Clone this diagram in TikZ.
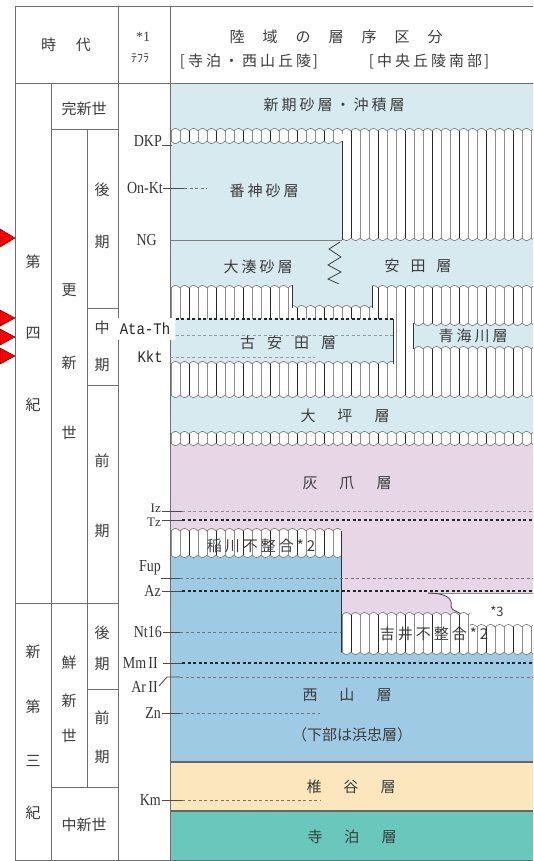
\documentclass[tikz,border=0pt]{standalone}
\usepackage{fontspec}
\usepackage{graphicx}
\setmainfont{Liberation Serif}
\newfontfamily\jp{Noto Sans CJK JP}
\newfontfamily\jpls[LetterSpace=20]{Noto Sans CJK JP}
\newfontfamily\monof{Liberation Mono}
\definecolor{lblue}{HTML}{D6EAF0}
\definecolor{nblue}{HTML}{9ECBE3}
\definecolor{pinkc}{HTML}{E6D6E6}
\definecolor{beigec}{HTML}{FCE6BE}
\definecolor{tealc}{HTML}{6AC7BC}
\definecolor{gridc}{HTML}{6E6E6E}
\definecolor{txtc}{HTML}{3C3C3C}
\def\wa{2.5}\def\wp{9}\def\wf{20}
% hatched unconformity: x1 x2 ytop mtop ybot mbot
\newcommand\hatch[6]{%
  \pgfmathtruncatemacro\ns{max(4,#2-#1)}%
  \fill[white] plot[domain=#1:#2,samples=\ns] (\x,{#3+(#4)*\wa*abs(sin(\wf*\x))}) -- plot[domain=#2:#1,samples=\ns] (\x,{#5+(#6)*\wa*abs(sin(\wf*\x))}) -- cycle;
  \pgfmathtruncatemacro\kA{ceil((#1+0.5)/\wp)}%
  \pgfmathtruncatemacro\kB{floor((#2-0.5)/\wp)}%
  \foreach \k in {\kA,...,\kB}{%
    \pgfmathtruncatemacro\km{mod(\k,3)}%
    \ifnum\km=0 \draw[hd] (\k*\wp,#3) -- (\k*\wp,#5);\else \draw[hl] (\k*\wp,#3) -- (\k*\wp,#5);\fi}%
  \ifnum#4=0\else\draw[edge] plot[domain=#1:#2,samples=\ns] (\x,{#3+(#4)*\wa*abs(sin(\wf*\x))});\fi
  \ifnum#6=0\else\draw[edge] plot[domain=#1:#2,samples=\ns] (\x,{#5+(#6)*\wa*abs(sin(\wf*\x))});\fi
}
% coloured overlay: colour x1 x2 ytop mtop ybot mbot
\newcommand\wfill[7]{%
  \pgfmathtruncatemacro\ns{max(4,#3-#2)}%
  \fill[#1] plot[domain=#2:#3,samples=\ns] (\x,{#4+(#5)*\wa*abs(sin(\wf*\x))}) -- plot[domain=#3:#2,samples=\ns] (\x,{#6+(#7)*\wa*abs(sin(\wf*\x))}) -- cycle;
  \ifnum#5=0\else\draw[edge] plot[domain=#2:#3,samples=\ns] (\x,{#4+(#5)*\wa*abs(sin(\wf*\x))});\fi
  \ifnum#7=0\else\draw[edge] plot[domain=#2:#3,samples=\ns] (\x,{#6+(#7)*\wa*abs(sin(\wf*\x))});\fi
}
\begin{document}
\begin{tikzpicture}[x=1pt,y=-1pt,
  grid/.style={draw=gridc,line width=0.9pt},
  edge/.style={draw=black!55,line width=0.6pt},
  dk/.style={draw=black!80,line width=0.9pt},
  hl/.style={draw=black!45,line width=0.6pt},
  hd/.style={draw=black!85,line width=0.8pt},
  tdash/.style={draw=black!55,line width=1pt,dash pattern=on 3pt off 2.5pt},
  tdashd/.style={draw=black!85,line width=1.1pt,dash pattern=on 3pt off 2.5pt},
  lead/.style={draw=black!70,line width=0.9pt},
  jt/.style={font={\jp\fontsize{15}{18}\selectfont},text=txtc,inner sep=0pt},
  jts/.style={font={\jpls\fontsize{15}{18}\selectfont},text=txtc,inner sep=0pt},
  lab/.style={font={\fontsize{14}{16}\selectfont},text=black!80,inner sep=0pt,anchor=east},
  mlab/.style={font={\monof\fontsize{14}{16}\selectfont},text=black!85,inner sep=0pt},
  tri/.style={fill=red,draw=red!40!black,line width=0.5pt}
]
\useasboundingbox (0,0) rectangle (533,861);
% ---------- backgrounds
\fill[lblue] (170,83) rectangle (533,446);
\fill[pinkc] (170,440) rectangle (533,762);
\fill[nblue] (170,553) -- (341,553) -- (341,640) -- (533,640) -- (533,762) -- (170,762) -- cycle;
\fill[beigec] (170,762) rectangle (533,811);
\fill[tealc] (170,811) rectangle (533,860);
% ---------- upper unconformity and right block
\hatch{170}{533}{131}{-1}{141}{1}
\hatch{342}{533}{134}{0}{238}{1}
\draw[dk] (342,141) -- (342,240);
\draw[draw=black!50,line width=0.9pt] (170,240) -- (342,240);
% zigzag between 大湊砂層 and 安田層
\draw[draw=black!75,line width=0.8pt] (340,242) -- (329,249) -- (341,257) -- (328,265) -- (341,272) -- (328,279) -- (341,285) -- (292,285);
% ---------- middle unconformity
\hatch{170}{533}{288}{-1}{395}{1}
\wfill{lblue}{292}{372}{284}{0}{308}{-1}
\draw[dk] (292,285) -- (292,308);
\draw[dk] (372,286) -- (372,308);
\wfill{lblue}{170}{393}{319}{0}{364}{-1}
\draw[dk] (393,319) -- (393,364);
\wfill{lblue}{413}{533}{323}{1}{349}{-1}
\draw[dk] (413,323) -- (413,349);
% ---------- thin band below 大坪層
\hatch{170}{533}{434}{-1}{443}{1}
% ---------- *3 white area
\fill[white] (428,593) -- (533,593) -- (533,630) -- (472,630) -- (472,627) .. controls (469,625) and (468,622) .. (466,618) .. controls (462,612) and (450,611) .. (451,606) .. controls (453,598) and (445,593) .. (428,593) -- cycle;
\draw[draw=black!45,line width=0.8pt] (428,593) -- (533,593);
\draw[draw=black!75,line width=0.8pt] (428,593) .. controls (445,593) and (453,598) .. (451,606) .. controls (450,611) and (462,612) .. (466,618) .. controls (468,622) and (469,625) .. (472,627);
% ---------- 稲川 and 吉井 unconformities
\hatch{170}{341}{531}{-1}{555}{1}
\hatch{341}{470}{615}{-1}{652}{1}
\hatch{470}{533}{627}{-1}{652}{1}
\draw[dk] (341,531) -- (341,652);
% ---------- lower boundaries
\draw[draw=black!60,line width=1.2pt] (170,762) -- (533,762);
\draw[draw=black!60,line width=1.2pt] (170,811) -- (533,811);
% ---------- table grid
\draw[grid] (15,6) -- (533,6);
\draw[grid] (15,83) -- (533,83);
\draw[grid] (15,860) -- (533,860);
\draw[grid] (15,6) -- (15,860);
\draw[grid] (118,6) -- (118,860);
\draw[grid] (170,6) -- (170,860);
\draw[grid] (51,83) -- (51,860);
\draw[grid] (87,129) -- (87,787);
\draw[grid] (51,129) -- (118,129);
\draw[grid] (87,308) -- (118,308);
\draw[grid] (87,385) -- (118,385);
\draw[grid] (15,603) -- (118,603);
\draw[grid] (87,689) -- (118,689);
\draw[grid] (51,787) -- (118,787);
% ---------- header
\node[jt] (hjidai) at (66,45) {時\hspace{20pt}代};
\node[font={\fontsize{14}{16}\selectfont},text=txtc,inner sep=0pt] (hstar) at (143,37) {*1};
\node[font={\jp\fontsize{12}{13}\selectfont},text=txtc,inner sep=0pt] (htephra) at (140,58) {ﾃﾌﾗ};
\node[jt] (htitle) at (336,37) {陸\hspace{18pt}域\hspace{18pt}の\hspace{18pt}層\hspace{18pt}序\hspace{18pt}区\hspace{18pt}分};
\node[jts] (hleft) at (249,61) {[\hspace{3pt}寺泊・西山丘陵\hspace{2pt}]};
\node[jts] (hright) at (429,61) {[\hspace{3pt}中央丘陵南部\hspace{2pt}]};
% ---------- period / epoch columns
\node[jt] (q1) at (33,262) {第};
\node[jt] (q2) at (33,333) {四};
\node[jt] (q3) at (33,405) {紀};
\node[jt] (n1) at (33,652) {新};
\node[jt] (n2) at (33,707) {第};
\node[jt] (n3) at (33,761) {三};
\node[jt] (n4) at (33,813) {紀};
\node[jt] (holo) at (84,109) {完新世};
\node[jt] (pl1) at (69,290) {更};
\node[jt] (pl2) at (69,363) {新};
\node[jt] (pl3) at (69,433) {世};
\node[jt] (lt1) at (102,190) {後};
\node[jt] (lt2) at (102,242) {期};
\node[jt] (md1) at (102,328) {中};
\node[jt] (md2) at (102,365) {期};
\node[jt] (er1) at (102,461) {前};
\node[jt] (er2) at (102,531) {期};
\node[jt] (pli1) at (69,663) {鮮};
\node[jt] (pli2) at (69,701) {新};
\node[jt] (pli3) at (69,736) {世};
\node[jt] (pl4) at (102,633) {後};
\node[jt] (pl5) at (102,664) {期};
\node[jt] (pe1) at (102,718) {前};
\node[jt] (pe2) at (102,757) {期};
\node[jt] (mio) at (84,825) {中新世};
% ---------- tephra labels and lines
\node[lab] (tDKP) at (162,141) {\scalebox{1}[1.2]{DKP}};
\draw[lead] (162,145) -- (172,145);
\node[lab] (tOnKt) at (163,188) {\scalebox{1}[1.2]{On-Kt}};
\draw[lead] (tOnKt.east) -- (184,188);
\draw[tdash] (184,188) -- (207,188);
\node[lab] (tNG) at (157,240) {\scalebox{1}[1.2]{NG}};
\draw[tdashd] (170,319) -- (393,319);
\draw[tdash,draw=black!40] (170,335) -- (393,335);
\draw[tdash,draw=black!40] (170,357) -- (315,357);
\node[mlab,fill=white,inner xsep=5pt,inner ysep=5pt] (tAta) at (145,329) {\scalebox{1}[1.15]{Ata-Th}};
\node[mlab,anchor=east] (tKkt) at (163,357) {\scalebox{1}[1.15]{Kkt}};
\node[lab,font={\fontsize{13}{14}\selectfont}] (tIz) at (161,508) {Iz};
\draw[lead] (162,511) -- (182,511);
\draw[tdash,draw=black!45] (182,511) -- (533,511);
\node[lab,font={\fontsize{13}{14}\selectfont}] (tTz) at (161,522) {Tz};
\draw[lead] (162,520) -- (182,520);
\draw[tdashd] (182,520) -- (533,520);
\node[lab] (tFup) at (161,568) {\scalebox{1}[1.2]{Fup}};
\draw[lead] (161,578) -- (180,578);
\draw[tdash] (180,578) -- (533,578);
\node[lab] (tAz) at (161,591) {\scalebox{1}[1.2]{Az}};
\draw[lead] (162,591) -- (182,591);
\draw[tdashd] (182,591) -- (533,591);
\node[lab] (tNt) at (162,632) {\scalebox{1}[1.2]{Nt16}};
\draw[lead] (163,632) -- (180,632);
\draw[tdash] (180,632) -- (341,632);
\node[lab] (tMm) at (158,663) {\scalebox{1}[1.2]{Mm\,II}};
\draw[lead] (163,663) -- (182,663);
\draw[tdashd] (182,663) -- (533,663);
\node[lab] (tAr) at (158,687) {\scalebox{1}[1.2]{Ar\,II}};
\draw[lead] (159,686) -- (167,677) -- (180,677);
\draw[tdash] (180,677) -- (533,677);
\node[lab] (tZn) at (161,713) {\scalebox{1}[1.2]{Zn}};
\draw[lead] (162,713) -- (180,713);
\draw[tdash] (180,713) -- (320,713);
\node[lab] (tKm) at (161,800) {\scalebox{1}[1.2]{Km}};
\draw[lead] (162,800) -- (182,800);
\draw[tdash] (182,800) -- (320,800);
% ---------- strata names
\node[jts] (sShinki) at (334,105) {新期砂層・沖積層};
\node[jts] (sBanjin) at (264,191) {番神砂層};
\node[jts] (sOminato) at (258,267) {大湊砂層};
\node[jt] (sYasuda) at (418,266) {安\hspace{11pt}田\hspace{11pt}層};
\node[jt] (sKoyasuda) at (288,343) {古\hspace{12pt}安\hspace{12pt}田\hspace{12pt}層};
\node[jts] (sOumi) at (473,336) {青海川層};
\node[jt] (sOtsubo) at (345,416) {大\hspace{22pt}坪\hspace{22pt}層};
\node[jt] (sHaizume) at (347,483) {灰\hspace{22pt}爪\hspace{22pt}層};
\node[jts] (sInagawa) at (261,546) {稲川不整合*2};
\node[jts] (sYoshii) at (434,634) {吉井不整合*2};
\node[font={\jp\fontsize{13}{14}\selectfont},text=txtc,inner sep=0pt] (s3) at (497,611) {*3};
\node[jt] (sNishiyama) at (347,695) {西\hspace{22pt}山\hspace{22pt}層};
\node[jt] (sHamachu) at (352,735) {（下部は浜忠層）};
\node[jt] (sShiiya) at (351,787) {椎\hspace{22pt}谷\hspace{22pt}層};
\node[jt] (sTeradomari) at (352,837) {寺\hspace{22pt}泊\hspace{22pt}層};
% ---------- red markers
\fill[tri] (0,229) -- (15,238) -- (0,247) -- cycle;
\fill[tri] (0,310) -- (15,318) -- (0,326) -- cycle;
\fill[tri] (0,329) -- (15,337) -- (0,345) -- cycle;
\fill[tri] (0,348) -- (15,356) -- (0,364) -- cycle;
\end{tikzpicture}
\end{document}
